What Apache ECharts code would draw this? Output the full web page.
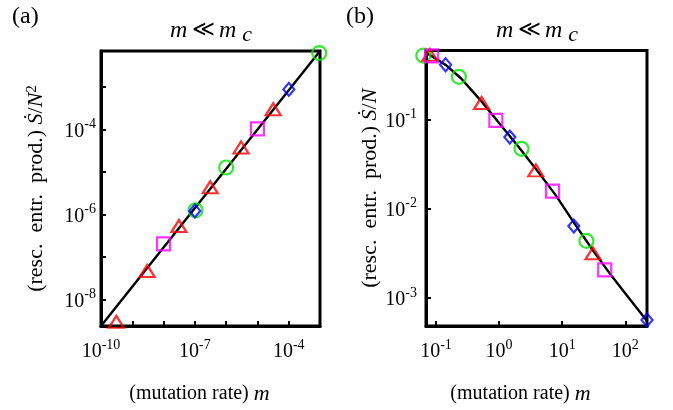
<!DOCTYPE html>
<html><head><meta charset="utf-8">
<script src="https://cdn.jsdelivr.net/npm/echarts@6/dist/echarts.min.js"></script>
<style>html,body{margin:0;padding:0;background:#fff}#c{width:673px;height:410px}</style>
</head><body><div id="c"></div>
<script>
// ---------- Panel (a): rescaled entropy production S/N^2 vs mutation rate m ----------
const aLineX = [1e-10, 1e-3];
const aLineY = [2.4e-9, 7.0e-3];
const aTriX  = [3.1e-10, 3.0e-9, 3.1e-8, 3.1e-7, 3.0e-6, 3.2e-5];
const aTriY  = [3.0e-9, 4.7e-8, 5.4e-7, 4.4e-6, 3.8e-5, 3.0e-4];
const aSqX   = [1.0e-8, 1.0e-5];
const aSqY   = [2.05e-7, 1.04e-4];
const aCircX = [1.05e-7, 1.0e-6, 9.5e-4];
const aCircY = [1.26e-6, 1.28e-5, 6.3e-3];
const aDiaX  = [1.0e-7, 1.01e-4];
const aDiaY  = [1.22e-6, 8.8e-4];
// tick exponents (powers of ten)
const aXTicks  = [-9, -8, -7, -6, -5, -4];
const aXLabels = [-10, -7, -4];
const aYTicks  = [-8, -7, -6, -5, -4, -3];
const aYLabels = [-8, -6, -4];

// ---------- Panel (b): rescaled entropy production S/N vs mutation rate m ----------
const bLineX = [0.0695, 0.141, 0.251, 0.501, 1, 2, 3.98, 7.94, 15.8, 31.6, 63.1, 126, 221];
const bLineY = [0.562, 0.412, 0.288, 0.166, 0.0912, 0.0501, 0.0269, 0.0141, 0.00676, 0.00331, 0.0017, 0.000912, 0.00055];
const bTriX  = [0.080, 0.528, 3.82, 30.8];
const bTriY  = [0.53, 0.153, 0.0269, 0.00316];
const bSqX   = [0.0855, 0.889, 7.03, 47.2];
const bSqY   = [0.516, 0.098, 0.0157, 0.00206];
const bCircX = [0.063, 0.231, 2.27, 24.2];
const bCircY = [0.52, 0.301, 0.0469, 0.00436];
const bDiaX  = [0.142, 1.48, 15.3, 221];
const bDiaY  = [0.411, 0.0635, 0.00638, 0.000565];
const bXTicks  = [-1, 0, 1, 2];
const bXLabels = [-1, 0, 1, 2];
const bYTicks  = [-3, -2, -1];
const bYLabels = [-3, -2, -1];

const SERIF = '"Liberation Serif", "Times New Roman", "DejaVu Serif", serif';
const RED = '#ff0000', GREEN = '#00e600', BLUE = '#0000ff', PINK = '#ff00ff';

const lg = v => Math.log10(v);
const pairs = (xs, ys) => xs.map((x, i) => [lg(x), lg(ys[i])]);
const tickLabel = v => '{b|10}{s|' + v + '}';
const labelRich = {
  b: {fontFamily: SERIF, fontSize: 20, color: '#000', verticalAlign: 'bottom', padding: [4, 0, 0, 0]},
  s: {fontFamily: SERIF, fontSize: 14, color: '#000', verticalAlign: 'top'}
};
const nameRich = {
  i: {fontFamily: SERIF, fontSize: 22, fontStyle: 'italic', color: '#000'},
  s: {fontFamily: SERIF, fontSize: 15, color: '#000', verticalAlign: 'top'}
};

function axis(gi, min, max, ticks, labels, margin, name, gap, pad, fs) {
  return {
    type: 'value', gridIndex: gi, min: min, max: max,
    axisLine: {show: true, onZero: false, lineStyle: {color: '#000', width: 3}},
    axisTick: {show: true, inside: true, length: 5, customValues: ticks, lineStyle: {color: '#000', width: 2}},
    axisLabel: {show: true, customValues: labels, margin: margin, formatter: tickLabel, rich: labelRich},
    splitLine: {show: false},
    name: name, nameLocation: 'middle', nameGap: gap,
    nameTextStyle: {fontFamily: SERIF, fontSize: fs, color: '#000', rich: nameRich, padding: pad}
  };
}
function scat(gi, xs, ys, symbol, size, color) {
  return {
    type: 'scatter', xAxisIndex: gi, yAxisIndex: gi, data: pairs(xs, ys),
    symbol: symbol, symbolSize: size, clip: false, z: 4,
    itemStyle: {color: 'rgba(0,0,0,0)', borderColor: color, borderWidth: 2.2},
    emphasis: {disabled: true}, silent: true
  };
}
function curve(gi, xs, ys) {
  return {
    type: 'line', xAxisIndex: gi, yAxisIndex: gi, data: pairs(xs, ys),
    symbol: 'none', lineStyle: {color: '#000', width: 2.4}, z: 3, silent: true, clip: true
  };
}

const titleRich = {
  i: {fontFamily: SERIF, fontSize: 24, fontStyle: 'italic'},
  o: {fontFamily: SERIF, fontSize: 22},
  c: {fontFamily: SERIF, fontSize: 22, fontStyle: 'italic', verticalAlign: 'bottom', padding: [9, 0, 0, 0]}
};
const titleText = '{i|m}{o|\u2009\u226A\u2009}{i|m} {c|c}';

const chart = echarts.init(document.getElementById('c'));
chart.setOption({
  animation: false,
  backgroundColor: '#fff',
  grid: [
    {left: 101, top: 51, width: 219, height: 280, show: true, borderColor: '#000', borderWidth: 3, backgroundColor: 'rgba(0,0,0,0)'},
    {left: 426, top: 50.5, width: 221, height: 281.5, show: true, borderColor: '#000', borderWidth: 3, backgroundColor: 'rgba(0,0,0,0)'}
  ],
  xAxis: [
    axis(0, -10, -3.0, aXTicks, aXLabels, 12, '(mutation rate) {i|m}', 57, [0, 22, 0, 0], 20),
    axis(1, -1.158, 2.344, bXTicks, bXLabels, 12, '(mutation rate) {i|m}', 57, [0, 32, 0, 0], 20)
  ],
  yAxis: [
    axis(0, -8.62, -2.153, aYTicks, aYLabels, 5, '(resc.  entr.  prod.) {i|\u1E60}/{i|N}{s|2}', 54, 0, 22),
    axis(1, -3.315, -0.2265, bYTicks, bYLabels, 9, '(resc.  entr.  prod.) {i|\u1E60}/{i|N}', 44, [0, 0, 0, 0], 22)
  ],
  graphic: [
    {type: 'text', left: 12, top: 5, style: {text: '(a)', fontFamily: SERIF, fontSize: 24, fill: '#000'}},
    {type: 'text', left: 346, top: 5, style: {text: '(b)', fontFamily: SERIF, fontSize: 24, fill: '#000'}},
    {type: 'text', x: 211, y: 15, style: {text: titleText, align: 'center', fontFamily: SERIF, fontSize: 24, fill: '#000', rich: titleRich}},
    {type: 'text', x: 537, y: 15, style: {text: titleText, align: 'center', fontFamily: SERIF, fontSize: 24, fill: '#000', rich: titleRich}}
  ],
  series: [
    curve(0, aLineX, aLineY),
    scat(0, aCircX, aCircY, 'circle', 14, GREEN),
    scat(0, aTriX, aTriY, 'triangle', [15, 12], RED),
    scat(0, aSqX, aSqY, 'rect', 13, PINK),
    scat(0, aDiaX, aDiaY, 'diamond', [11, 13], BLUE),
    curve(1, bLineX, bLineY),
    scat(1, bCircX, bCircY, 'circle', 14, GREEN),
    scat(1, bTriX, bTriY, 'triangle', [15, 12], RED),
    scat(1, bSqX, bSqY, 'rect', 13, PINK),
    scat(1, bDiaX, bDiaY, 'diamond', [11, 13], BLUE)
  ]
});
</script></body></html>
